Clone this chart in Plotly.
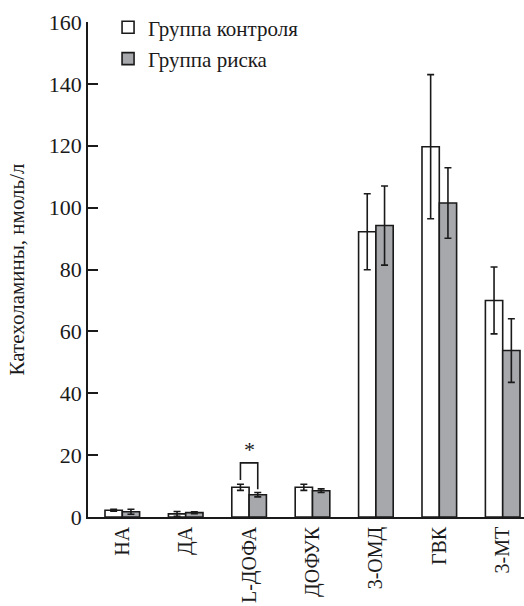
import plotly.graph_objects as go

# Catecholamine levels, nmol/l (mean ± error)
categories = ["НА", "ДА", "L-ДОФА", "ДОФУК", "3-ОМД", "ГВК", "3-МТ"]
control_values = [2.2, 1.0, 9.6, 9.6, 92.2, 119.7, 70.0]
control_errors = [0.3, 0.8, 1.0, 1.0, 12.3, 23.3, 10.8]
risk_values = [1.7, 1.4, 7.2, 8.5, 94.2, 101.5, 53.8]
risk_errors = [0.8, 0.3, 0.7, 0.6, 12.8, 11.4, 10.3]
y_ticks = [0, 20, 40, 60, 80, 100, 120, 140, 160]

FONT = "Liberation Serif"
GRAY = "#a7a8ac"
BAR_W = 0.273  # width of a single bar in category units

fig = go.Figure()
fig.add_trace(go.Bar(
    name="Группа контроля", x=categories, y=control_values, legendgroup="c",
    marker=dict(color="white", line=dict(color="#1a1a1a", width=1.6)),
    error_y=dict(type="data", array=control_errors, color="#1a1a1a",
                 thickness=1.6, width=3.5),
))
fig.add_trace(go.Bar(
    name="Группа риска", x=categories, y=risk_values, legendgroup="r",
    marker=dict(color=GRAY, line=dict(color="#1a1a1a", width=1.6)),
    error_y=dict(type="data", array=risk_errors, color="#1a1a1a",
                 thickness=1.6, width=3.5),
))

# significance bracket between the L-ДОФА pair
i = categories.index("L-ДОФА")
xl, xr = i - BAR_W / 2, i + BAR_W / 2
left_top = control_values[i] + control_errors[i] + 1.4
right_top = risk_values[i] + risk_errors[i] + 1.1
bracket_y = 17.5
fig.add_shape(type="path", xref="x", yref="y",
              path=f"M {xl} {left_top} L {xl} {bracket_y} L {xr} {bracket_y} L {xr} {right_top}",
              line=dict(color="#1a1a1a", width=1.6))
fig.add_annotation(x=i, y=bracket_y, text="*", showarrow=False, yanchor="bottom",
                   yshift=-1, font=dict(family=FONT, size=22, color="#1a1a1a"))

fig.update_layout(
    width=524, height=606,
    margin=dict(l=88, r=0, t=22, b=89),
    paper_bgcolor="white", plot_bgcolor="white",
    barmode="group", bargap=0.454, bargroupgap=0,
    font=dict(family=FONT, size=21, color="#1a1a1a"),
    showlegend=True,
    legend=dict(x=0.046, y=1.03, xanchor="left", yanchor="top",
                bgcolor="rgba(0,0,0,0)", font=dict(family=FONT, size=21),
                traceorder="grouped", tracegroupgap=1, itemwidth=30),
)
fig.update_xaxes(
    range=[-0.541, 6.336], showline=True, linecolor="#1a1a1a", linewidth=1.6,
    ticks="", tickangle=-90, showgrid=False, zeroline=False, automargin=False,
    tickfont=dict(family=FONT, size=20),
)
fig.update_yaxes(
    range=[0, 160], tickvals=y_ticks, showline=True, linecolor="#1a1a1a",
    linewidth=1.6, ticks="inside", ticklen=10, tickwidth=1.6, tickcolor="#1a1a1a",
    showgrid=False, zeroline=False, automargin=False,
    tickfont=dict(family=FONT, size=22),
    title=dict(text="Катехоламины, нмоль/л", font=dict(family=FONT, size=21), standoff=18),
)

fig.write_html("out.html")
